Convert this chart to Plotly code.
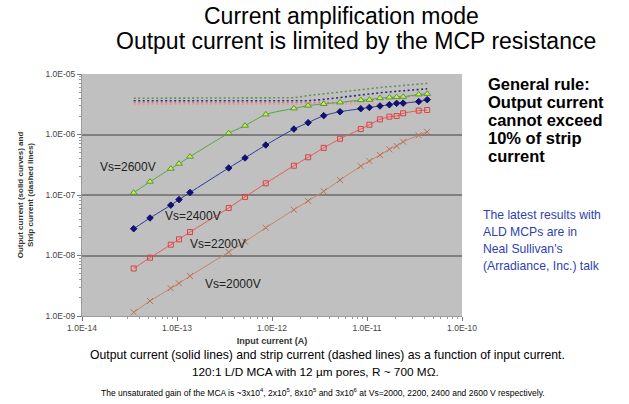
import plotly.graph_objects as go

# ---- data ----
input_current = [3.5e-14, 5.2e-14, 8.6e-14, 1.05e-13, 1.37e-13, 3.5e-13, 5.2e-13, 8.6e-13,
                 1.7e-12, 2.4e-12, 3.5e-12, 5.2e-12, 8.6e-12, 1.06e-11, 1.37e-11, 1.72e-11,
                 2.05e-11, 2.4e-11, 3.5e-11, 4.3e-11]

out_2600 = [1.09e-7, 1.66e-7, 2.72e-7, 3.29e-7, 4.3e-7, 1.05e-6, 1.4e-6, 2.15e-6, 2.7e-6, 3.0e-6,
            3.2e-6, 3.4e-6, 3.7e-6, 3.75e-6, 4.0e-6, 4.1e-6, 4.15e-6, 4.2e-6, 4.6e-6, 4.7e-6]
out_2400 = [2.77e-8, 4.17e-8, 6.8e-8, 8.4e-8, 1.1e-7, 2.8e-7, 4.1e-7, 6.7e-7, 1.23e-6, 1.57e-6,
            2.05e-6, 2.38e-6, 2.67e-6, 2.8e-6, 2.96e-6, 3.1e-6, 3.27e-6, 3.3e-6, 3.5e-6, 3.76e-6]
out_2200 = [6.1e-9, 9.2e-9, 1.51e-8, 1.85e-8, 2.44e-8, 6.1e-8, 9.3e-8, 1.56e-7, 3.05e-7, 4.2e-7,
            6.0e-7, 8.5e-7, 1.23e-6, 1.45e-6, 1.78e-6, 1.97e-6, 2.02e-6, 2.24e-6, 2.48e-6, 2.54e-6]
out_2000 = [1.15e-9, 1.77e-9, 2.87e-9, 3.47e-9, 4.58e-9, 1.14e-8, 1.69e-8, 2.88e-8, 5.7e-8, 8.0e-8,
            1.15e-7, 1.77e-7, 3.0e-7, 3.65e-7, 4.58e-7, 5.7e-7, 6.45e-7, 7.6e-7, 9.7e-7, 1.11e-6]

strip_2600 = [3.97e-6] * 8 + [4.05e-6, 4.4e-6, 4.7e-6, 5.1e-6, 5.6e-6, 5.8e-6, 6.0e-6, 6.2e-6,
                              6.3e-6, 6.4e-6, 6.8e-6, 7.0e-6]
strip_2400 = [3.62e-6] * 10 + [3.8e-6, 4.1e-6, 4.6e-6, 4.75e-6, 4.9e-6, 5.05e-6, 5.15e-6, 5.25e-6,
                               5.5e-6, 5.7e-6]
strip_2200 = [3.36e-6] * 12 + [3.6e-6, 3.7e-6, 3.85e-6, 4.0e-6, 4.1e-6, 4.2e-6, 4.45e-6, 4.6e-6]
strip_2000 = [3.15e-6] * 14 + [3.2e-6, 3.3e-6, 3.35e-6, 3.45e-6, 3.65e-6, 3.8e-6]

x_tickvals = [1e-14, 1e-13, 1e-12, 1e-11, 1e-10]
x_ticktext = ["1.0E-14", "1.0E-13", "1.0E-12", "1.0E-11", "1.0E-10"]
y_tickvals = [1e-9, 1e-8, 1e-7, 1e-6, 1e-5]
y_ticktext = ["1.0E-09", "1.0E-08", "1.0E-07", "1.0E-06", "1.0E-05"]

rule_lines = ["General rule:", "Output current", "cannot exceed", "10% of strip", "current"]
note_lines = ["The latest results with", "ALD MCPs are in", "Neal Sullivan's", "(Arradiance, Inc.) talk"]

series = [
    ("Vs=2600V", out_2600, strip_2600, "#55a840", "triangle-up", "#d4ea50", "#4f9a35", 6, "#5f9250"),
    ("Vs=2400V", out_2400, strip_2400, "#2b3a9e", "diamond", "#111170", "#111170", 5, "#2a2a80"),
    ("Vs=2200V", out_2200, strip_2200, "#e55a55", "square-open", "#e04040", "#e04040", 5, "#e07878"),
    ("Vs=2000V", out_2000, strip_2000, "#c8845f", "x-thin-open", "#b87050", "#b87050", 6, "#e0a0a0"),
]

fig = go.Figure()
for name, out, strip, lc, sym, mfill, mline, msize, sc in series:
    fig.add_trace(go.Scatter(
        x=input_current, y=strip, mode="lines",
        line=dict(color=sc, width=1.6, dash="2px,2.5px"), showlegend=False, name=name + " strip"))
for name, out, strip, lc, sym, mfill, mline, msize, sc in series:
    fig.add_trace(go.Scatter(
        x=input_current, y=out, mode="lines+markers",
        line=dict(color=lc, width=1, shape="spline", smoothing=0.6),
        marker=dict(symbol=sym, size=msize, color=mfill, line=dict(color=mline, width=1)),
        showlegend=False, name=name))

L, R, T, B = 82, 167, 74, 88
PW, PH = 629 - L - R, 404 - T - B

def px(x):
    return (x - L) / PW

def py(y):
    return (404 - B - y) / PH

minor_x = [m * 10 ** e for e in range(-14, -10) for m in range(2, 10)]
minor_y = [m * 10 ** e for e in range(-9, -5) for m in range(2, 10)]

fig.update_xaxes(
    type="log", range=[-14, -10], tickvals=x_tickvals, ticktext=x_ticktext,
    showgrid=False, zeroline=False, showline=True, linecolor="#9a9a9a", linewidth=1,
    ticks="outside", ticklen=4, tickcolor="#777", tickwidth=1,
    minor=dict(tickvals=minor_x, ticks="outside", ticklen=2, tickcolor="#999"),
    tickfont=dict(family="Liberation Sans, Arial", size=8.5, color="#444"),
    title=dict(text="<b>Input current (A)</b>", font=dict(family="Liberation Sans, Arial", size=9, color="#333"), standoff=5),
)
fig.update_yaxes(
    type="log", range=[-9, -5], tickvals=y_tickvals, ticktext=y_ticktext,
    showgrid=True, gridcolor="#7f7f7f", gridwidth=1.5, zeroline=False,
    showline=True, linecolor="#9a9a9a", linewidth=1,
    ticks="outside", ticklen=4, tickcolor="#777", tickwidth=1,
    minor=dict(tickvals=minor_y, ticks="outside", ticklen=2, tickcolor="#999", showgrid=False),
    tickfont=dict(family="Liberation Sans, Arial", size=8.5, color="#444"),
    title=dict(text="<b>Output current (solid curves) and<br>Strip current (dashed lines)</b>",
               font=dict(family="Liberation Sans, Arial", size=8, color="#333"), standoff=10),
)

ann = []
def add(text, x, y, size, color="#000", xanchor="center", align="center", family="Liberation Sans, Arial"):
    ann.append(dict(text=text, x=px(x), y=py(y), xref="paper", yref="paper", showarrow=False,
                    xanchor=xanchor, yanchor="middle", align=align, borderpad=0,
                    font=dict(family=family, size=size, color=color)))

add("Current amplification mode", 341, 16, 23)
add("Output current is limited by the MCP resistance", 356, 41, 23)

for i, t in enumerate(rule_lines):
    add("<b>" + t + "</b>", 487, 83.5 + 18 * i, 16.5, xanchor="left", align="left")
for i, t in enumerate(note_lines):
    add(t, 482, 215 + 17 * i, 12.2, color="#2f3fb0", xanchor="left", align="left")

add("Vs=2600V", 128, 167, 12, color="#222")
add("Vs=2400V", 193, 216, 12, color="#222")
add("Vs=2200V", 218, 244, 12, color="#222")
add("Vs=2000V", 233, 284, 12, color="#222")

add("Output current (solid lines) and strip current (dashed lines) as a function of input current.", 327, 355, 12.2)
add("120:1 L/D MCA with 12 \u00b5m pores, R ~ 700 M\u03a9.", 315, 372, 11.8)
add("The unsaturated gain of the MCA is ~3x10<sup>4</sup>, 2x10<sup>5</sup>, 8x10<sup>5</sup> and 3x10<sup>6</sup> at Vs=2000, 2200, 2400 and 2600 V respectively.",
    323, 392, 8.5)

fig.update_layout(
    width=629, height=404, margin=dict(l=L, r=R, t=T, b=B),
    paper_bgcolor="white", plot_bgcolor="#c0c0c0",
    annotations=ann, showlegend=False,
)

fig.write_html("out.html")
